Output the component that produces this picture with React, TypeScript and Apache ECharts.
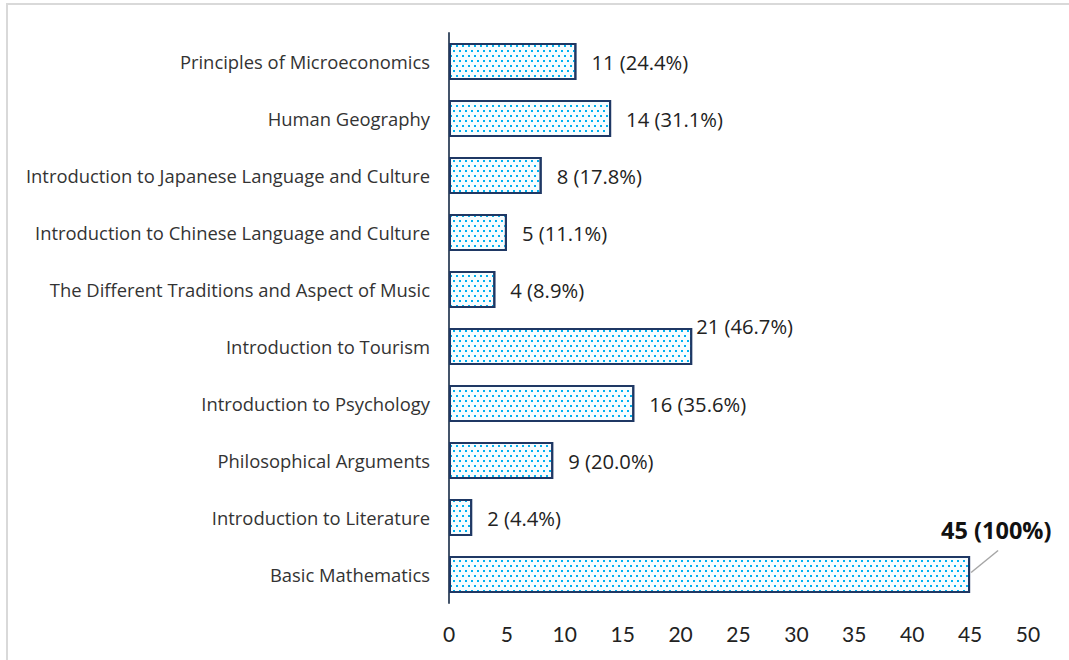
import React, { useEffect, useRef } from "react";
import * as echarts from "echarts";

const categories = [
  "Principles of Microeconomics",
  "Human Geography",
  "Introduction to Japanese Language and Culture",
  "Introduction to Chinese Language and Culture",
  "The Different Traditions and Aspect of Music",
  "Introduction to Tourism",
  "Introduction to Psychology",
  "Philosophical Arguments",
  "Introduction to Literature",
  "Basic Mathematics",
];
const counts = [11, 14, 8, 5, 4, 21, 16, 9, 2, 45];
const percents = ["24.4%", "31.1%", "17.8%", "11.1%", "8.9%", "46.7%", "35.6%", "20.0%", "4.4%", "100%"];
const xTicks = { min: 0, max: 50, interval: 5 };

export default function App() {
  const ref = useRef<HTMLDivElement>(null);
  useEffect(() => {
    document.body.style.margin = "0";
    const chart = echarts.init(ref.current!, null, { renderer: "svg" });
    const decal = {
      symbol: "rect",
      symbolSize: 1,
      color: "#00B0F0",
      dashArrayX: [
        [2, 4],
        [0, 3, 2, 1],
      ],
      dashArrayY: [2, 3],
    };
    const last = counts.length - 1;
    const data = counts.map((v, i) => {
      const item: any = { value: v };
      if (i === last) {
        item.label = {
          fontWeight: "bold",
          fontSize: 23.5,
          color: "#111",
        };
      }
      return item;
    });
    chart.setOption({
      animation: false,
      grid: { left: 449, right: 41, top: 33, bottom: 57, containLabel: false },
      xAxis: {
        type: "value",
        min: xTicks.min,
        max: xTicks.max,
        interval: xTicks.interval,
        axisLine: { show: false },
        axisTick: { show: false },
        splitLine: { show: false },
        axisLabel: {
          margin: 20,
          fontSize: 21,
          color: "#222",
          fontFamily: "Lato, 'DejaVu Sans', sans-serif",
        },
      },
      yAxis: {
        type: "category",
        data: categories,
        inverse: true,
        axisTick: { show: false },
        axisLine: { show: true, lineStyle: { color: "#44546A", width: 2 } },
        axisLabel: {
          margin: 19,
          fontSize: 18.4,
          color: "#333",
          fontFamily: "'Open Sans', 'Noto Sans', sans-serif",
        },
      },
      series: [
        {
          type: "bar",
          data,
          barWidth: 37,
          itemStyle: {
            color: "#f7fdff",
            borderColor: "#1F3864",
            borderWidth: 2,
            decal,
          },
          label: {
            show: true,
            position: "right",
            distance: 15,
            fontSize: 20.2,
            color: "#222",
            fontFamily: "'Open Sans', 'Noto Sans', sans-serif",
            formatter: (p: any) => `${counts[p.dataIndex]} (${percents[p.dataIndex]})`,
          },
        },
      ],
      labelLayout: (p: any) => {
        if (p.dataIndex === last) return { dx: -44, dy: -45 };
        if (p.dataIndex === 5) return { dx: -11, dy: -21 };
        return {};
      },
    });
    // leader line for the moved "Basic Mathematics" label, anchored via the chart's own scales
    const end = chart.convertToPixel({ gridIndex: 0 }, [counts[last], categories[last]]) as number[];
    chart.setOption({
      graphic: [
        {
          type: "rect",
          shape: { x: 7, y: 4, width: 1070, height: 670 },
          style: { fill: "none", stroke: "#d9d9d9", lineWidth: 2 },
          silent: true,
        },
        {
          type: "line",
          shape: { x1: end[0] + 1, y1: end[1] - 2, x2: end[0] + 28, y2: end[1] - 24 },
          style: { stroke: "#a6a6a6", lineWidth: 1.5 },
          silent: true,
        },
      ],
    });
    return () => chart.dispose();
  }, []);
  return <div ref={ref} style={{ width: 1069, height: 660 }} />;
}
